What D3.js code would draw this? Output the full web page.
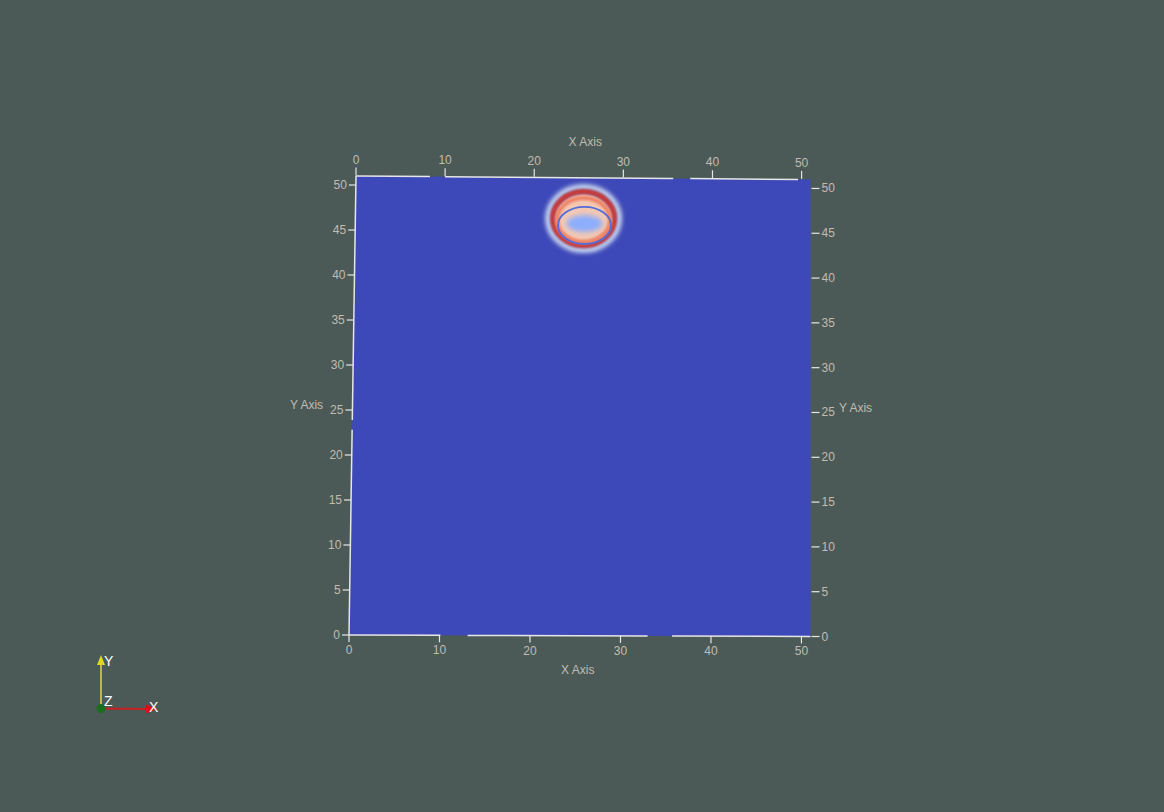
<!DOCTYPE html>
<html>
<head>
<meta charset="utf-8">
<script src="https://cdn.jsdelivr.net/npm/d3@7"></script>
<style>
  html, body { margin: 0; padding: 0; background: #4b5a57; }
  svg { display: block; }
  text { font-family: "Liberation Sans", Arial, sans-serif; }
</style>
</head>
<body>
<svg id="chart" width="1164" height="812"></svg>
<script>
// ---------- data ----------
const xDomain = [0, 51];
const yDomain = [0, 51];
const xTicks = [0, 10, 20, 30, 40, 50];
const yTicks = [0, 5, 10, 15, 20, 25, 30, 35, 40, 45, 50];
const xTitle = "X Axis";
const yTitle = "Y Axis";
const backgroundValue = -1;
// field features (data units): centre x, centre y, radius x, radius y, field value
const haloRing    = [25.57, 46.46, 3.98, 3.51, -0.15];
const paleFill    = [25.57, 46.40, 3.25, 2.80, 0.22];
const redRing     = [25.57, 46.46, 3.47, 3.01, 0.88];
const orangeRing  = [25.57, 46.30, 2.97, 2.45, 0.6];
const blueCore    = [25.68, 45.91, 2.02, 0.95, -0.5];
const blueRing    = [25.68, 45.69, 2.97, 2.06, -0.85];
// colour map stops (cool to warm)
const cmapStops = [-1, -0.8, -0.6, -0.4, -0.2, 0, 0.2, 0.4, 0.6, 0.8, 1];
const cmapColors = ["#3e49b9", "#5a78e4", "#7b9ff9", "#9ebeff", "#c0d4f5", "#dddcdc",
                    "#f2cbb7", "#f7ac8e", "#ee8468", "#d65244", "#b40426"];
// axis line gaps (data units) seen in the rendering
const topGaps = [[8.3, 10.0], [35.6, 37.5], [49.6, 51]];
const bottomGaps = [[10.1, 13.1], [33.0, 35.7]];
const leftGaps = [[22.8, 23.9]];

// ---------- scales ----------
const xTop = d3.scaleLinear().domain(xDomain).range([356, 810.5]);
const xBottom = d3.scaleLinear().domain(xDomain).range([349, 810.5]);
const yLeft = d3.scaleLinear().domain(yDomain).range([635, 176]);
const yRight = d3.scaleLinear().domain(yDomain).range([636.5, 179.5]);
const color = d3.scaleLinear().domain(cmapStops).range(cmapColors).interpolate(d3.interpolateLab);

function P(x, y) {
  const u = (x - xDomain[0]) / (xDomain[1] - xDomain[0]);
  const v = (y - yDomain[0]) / (yDomain[1] - yDomain[0]);
  const px = xBottom(x) * (1 - v) + xTop(x) * v;
  const py = yLeft(y) * (1 - u) + yRight(y) * u;
  return [px, py];
}
const sx = (xTop.range()[1] - xTop.range()[0]) / (xDomain[1] - xDomain[0]);
const sy = (yLeft.range()[0] - yLeft.range()[1]) / (yDomain[1] - yDomain[0]);

const svg = d3.select("#chart");
const defs = svg.append("defs");
[["b06", 0.6], ["b1", 1.0], ["b12", 1.2], ["b2", 2.0], ["b25", 2.5]].forEach(([id, s]) => {
  defs.append("filter").attr("id", id).attr("x", "-50%").attr("y", "-50%")
    .attr("width", "200%").attr("height", "200%")
    .append("feGaussianBlur").attr("stdDeviation", s);
});

// plane
const corners = [P(0, 0), P(51, 0), P(51, 51), P(0, 51)];
const planePath = "M" + corners.map(c => c.join(",")).join("L") + "Z";
defs.append("clipPath").attr("id", "planeClip").append("path").attr("d", planePath);
svg.append("path").attr("d", planePath).attr("fill", color(backgroundValue));

const blob = svg.append("g").attr("clip-path", "url(#planeClip)");
function ell(layer, opts) {
  const [cx, cy, rx, ry, val] = layer;
  const c = P(cx, cy);
  const e = blob.append("ellipse").attr("cx", c[0]).attr("cy", c[1])
    .attr("rx", rx * sx).attr("ry", ry * sy);
  if (opts.stroke) {
    e.attr("fill", "none").attr("stroke", color(val)).attr("stroke-width", opts.stroke);
  } else {
    e.attr("fill", color(val));
  }
  if (opts.filter) e.attr("filter", "url(#" + opts.filter + ")");
  return e;
}
ell(haloRing, { stroke: 6, filter: "b2" });
ell(paleFill, { filter: "b1" });
ell(redRing, { stroke: 5, filter: "b1" });
ell(orangeRing, { stroke: 4.5, filter: "b12" });
ell(blueCore, { filter: "b25" });
ell(blueRing, { stroke: 1.9, filter: "b06" });

// ---------- axes ----------
const axisColor = "#e6e6e6";
const textColor = "#c2bbb2";
const ax = svg.append("g");

function segLine(fn, gaps, lo, hi) {
  const pieces = [];
  let start = lo;
  gaps.slice().sort((a, b) => a[0] - b[0]).forEach(g => {
    if (g[0] > start) pieces.push([start, g[0]]);
    start = Math.max(start, g[1]);
  });
  if (start < hi) pieces.push([start, hi]);
  pieces.forEach(([a, b]) => {
    const p = fn(a), q = fn(b);
    ax.append("line").attr("x1", p[0]).attr("y1", p[1]).attr("x2", q[0]).attr("y2", q[1])
      .attr("stroke", axisColor).attr("stroke-width", 1.5);
  });
}
segLine(t => P(t, 51), topGaps, 0, 51);
segLine(t => P(t, 0), bottomGaps, 0, 51);
segLine(t => P(0, t), leftGaps, 0, 51);

const fs = 12;
xTicks.forEach(t => {
  const p = P(t, 51);
  const yb = p[1] - 0.5;
  ax.append("line").attr("x1", p[0]).attr("y1", yb).attr("x2", p[0]).attr("y2", yb - 8)
    .attr("stroke", axisColor).attr("stroke-width", 1.2);
  ax.append("text").attr("x", p[0]).attr("y", yb - 12).attr("text-anchor", "middle")
    .attr("font-size", fs).attr("fill", textColor).text(t);
});
xTicks.forEach(t => {
  const p = P(t, 0);
  ax.append("line").attr("x1", p[0]).attr("y1", p[1]).attr("x2", p[0]).attr("y2", p[1] + 7)
    .attr("stroke", axisColor).attr("stroke-width", 1.2);
  ax.append("text").attr("x", p[0]).attr("y", p[1] + 19).attr("text-anchor", "middle")
    .attr("font-size", fs).attr("fill", textColor).text(t);
});
yTicks.forEach(t => {
  const p = P(0, t);
  ax.append("line").attr("x1", p[0]).attr("y1", p[1]).attr("x2", p[0] - 7).attr("y2", p[1])
    .attr("stroke", axisColor).attr("stroke-width", 1.2);
  ax.append("text").attr("x", p[0] - 9).attr("y", p[1] + 4).attr("text-anchor", "end")
    .attr("font-size", fs).attr("fill", textColor).text(t);
});
yTicks.forEach(t => {
  const p = P(51, t);
  ax.append("line").attr("x1", p[0] + 1).attr("y1", p[1]).attr("x2", p[0] + 9).attr("y2", p[1])
    .attr("stroke", axisColor).attr("stroke-width", 1.2);
  ax.append("text").attr("x", p[0] + 11).attr("y", p[1] + 4).attr("text-anchor", "start")
    .attr("font-size", fs).attr("fill", textColor).text(t);
});
const midTop = P(25.5, 51), midBot = P(25.5, 0), midL = P(0, 25.5), midR = P(51, 25.5);
ax.append("text").attr("x", midTop[0] + 2).attr("y", midTop[1] - 32).attr("text-anchor", "middle")
  .attr("font-size", fs).attr("fill", textColor).text(xTitle);
ax.append("text").attr("x", midBot[0] - 2).attr("y", midBot[1] + 38).attr("text-anchor", "middle")
  .attr("font-size", fs).attr("fill", textColor).text(xTitle);
ax.append("text").attr("x", midL[0] - 46).attr("y", midL[1] + 3).attr("text-anchor", "middle")
  .attr("font-size", fs).attr("fill", textColor).text(yTitle);
ax.append("text").attr("x", midR[0] + 45).attr("y", midR[1] + 4).attr("text-anchor", "middle")
  .attr("font-size", fs).attr("fill", textColor).text(yTitle);

// ---------- orientation triad ----------
const tri = svg.append("g");
const o = [101, 708.5];
tri.append("line").attr("x1", o[0]).attr("y1", o[1]).attr("x2", o[0]).attr("y2", 663)
  .attr("stroke", "#d8d040").attr("stroke-width", 1.6);
tri.append("path").attr("d", `M${o[0] - 4},665 L${o[0] + 4},665 L${o[0]},655 Z`).attr("fill", "#e0d820");
tri.append("line").attr("x1", o[0]).attr("y1", o[1]).attr("x2", 147).attr("y2", o[1] + 0.5)
  .attr("stroke", "#c82020").attr("stroke-width", 1.8);
tri.append("path").attr("d", `M146,${o[1] - 4} L146,${o[1] + 5} L157,${o[1] + 0.5} Z`).attr("fill", "#e01010");
tri.append("circle").attr("cx", o[0]).attr("cy", o[1]).attr("r", 4.5).attr("fill", "#1a6e1e");
tri.append("text").attr("x", 104).attr("y", 666).attr("font-size", 14).attr("fill", "#ffffff").text("Y");
tri.append("text").attr("x", 104).attr("y", 706).attr("font-size", 14).attr("fill", "#ffffff").text("Z");
tri.append("text").attr("x", 149).attr("y", 712).attr("font-size", 14).attr("fill", "#ffffff").text("X");
</script>
</body>
</html>
